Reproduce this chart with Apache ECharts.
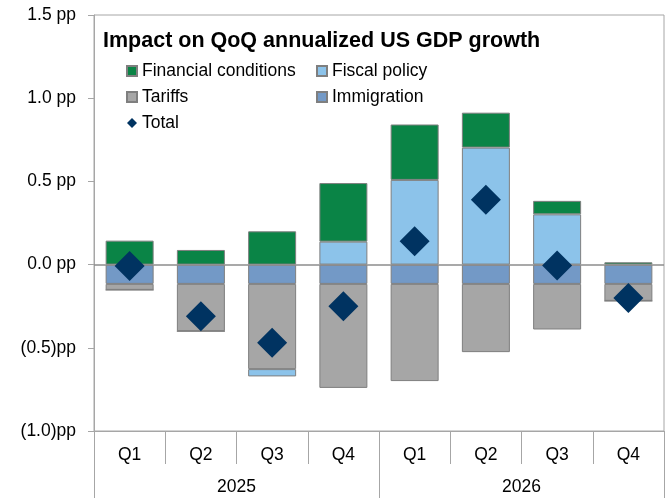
<!DOCTYPE html>
<html>
<head>
<meta charset="utf-8">
<script src="https://cdn.jsdelivr.net/npm/echarts@6/dist/echarts.min.js"></script>
<style>
  html, body { margin: 0; padding: 0; background: #fff; }
  #chart { width: 666px; height: 499px; }
</style>
</head>
<body>
<div id="chart"></div>
<script>
// Quarterly contributions to annualized US GDP growth, percentage points
const quarters = ['Q1', 'Q2', 'Q3', 'Q4', 'Q1', 'Q2', 'Q3', 'Q4'];
const years = ['2025', '2026'];
const financialConditions = [0.144, 0.088, 0.200, 0.352, 0.333, 0.210, 0.081, 0.014];
const fiscalPolicy = [0, 0, -0.044, 0.138, 0.509, 0.703, 0.302, 0];
const tariffs = [-0.036, -0.284, -0.512, -0.625, -0.584, -0.410, -0.274, -0.102];
const immigration = [-0.116, -0.116, -0.116, -0.116, -0.116, -0.116, -0.116, -0.116];
const total = [-0.008, -0.31, -0.47, -0.25, 0.14, 0.39, -0.006, -0.20];
const yTicks = [-1.0, -0.5, 0.0, 0.5, 1.0, 1.5];

const FONT = '"Liberation Sans", Arial, sans-serif';
const EDGE = '#7f7f7f';
const AXIS_GREY = '#a6a6a6';

function ppLabel(v) {
  const a = Math.abs(v).toFixed(1);
  return v < 0 ? '(' + a + ')pp' : a + ' pp';
}

const chart = echarts.init(document.getElementById('chart'));

const barStyle = (color) => ({ color: color, borderColor: EDGE, borderWidth: 1 });
const legendText = { fontFamily: FONT, fontSize: 17.5, color: '#000' };

chart.setOption({
  animation: false,
  textStyle: { fontFamily: FONT },
  title: {
    text: 'Impact on QoQ annualized US GDP growth',
    left: 98, top: 25,
    textStyle: { fontFamily: FONT, fontSize: 21.5, fontWeight: 'bold', color: '#000' }
  },
  legend: [
    {
      orient: 'vertical', left: 121, top: 57, itemGap: 8,
      itemWidth: 10, itemHeight: 10,
      data: [
        { name: 'Financial conditions', icon: 'rect' },
        { name: 'Tariffs', icon: 'rect' },
        { name: 'Total', icon: 'diamond' }
      ],
      textStyle: legendText
    },
    {
      orient: 'vertical', left: 311, top: 57, itemGap: 8,
      itemWidth: 10, itemHeight: 10,
      data: [
        { name: 'Fiscal policy', icon: 'rect' },
        { name: 'Immigration', icon: 'rect' }
      ],
      textStyle: legendText
    }
  ],
  grid: {
    left: 94, right: 2, top: 15, bottom: 68,
    show: true, borderColor: AXIS_GREY, borderWidth: 1
  },
  xAxis: [
    {
      type: 'category', data: quarters, position: 'bottom',
      axisLine: { onZero: false, lineStyle: { color: AXIS_GREY } },
      axisTick: { show: true, length: 33, interval: 0, lineStyle: { color: AXIS_GREY } },
      axisLabel: { fontSize: 17.5, color: '#000', margin: 15, fontFamily: FONT }
    },
    {
      type: 'category', data: years, position: 'bottom', offset: 33,
      axisLine: { show: false, onZero: false },
      axisTick: { show: true, length: 34, interval: 0, lineStyle: { color: AXIS_GREY } },
      axisLabel: { fontSize: 17.5, color: '#000', margin: 14, fontFamily: FONT }
    }
  ],
  yAxis: {
    type: 'value', min: -1.0, max: 1.5, interval: 0.5,
    axisLine: { show: true, lineStyle: { color: AXIS_GREY } },
    axisTick: { show: true, length: 6, lineStyle: { color: AXIS_GREY } },
    splitLine: { show: false },
    axisLabel: {
      fontSize: 17.5, color: '#000', margin: 18, fontFamily: FONT,
      formatter: ppLabel
    }
  },
  series: [
    {
      name: 'Immigration', type: 'bar', stack: 'gdp', barWidth: 48,
      data: immigration, itemStyle: barStyle('#7399c6'),
      markLine: {
        silent: true, symbol: 'none', label: { show: false },
        lineStyle: { color: '#8c8c8c', width: 1.5, type: 'solid' },
        data: [{ yAxis: 0 }]
      }
    },
    { name: 'Tariffs', type: 'bar', stack: 'gdp', data: tariffs, itemStyle: barStyle('#a6a6a6') },
    { name: 'Fiscal policy', type: 'bar', stack: 'gdp', data: fiscalPolicy, itemStyle: barStyle('#8cc3ea') },
    { name: 'Financial conditions', type: 'bar', stack: 'gdp', data: financialConditions, itemStyle: barStyle('#0a8446') },
    {
      name: 'Total', type: 'scatter', symbol: 'diamond', symbolSize: 30,
      data: total, z: 5,
      itemStyle: { color: '#003361', opacity: 1 }
    }
  ]
});
</script>
</body>
</html>
